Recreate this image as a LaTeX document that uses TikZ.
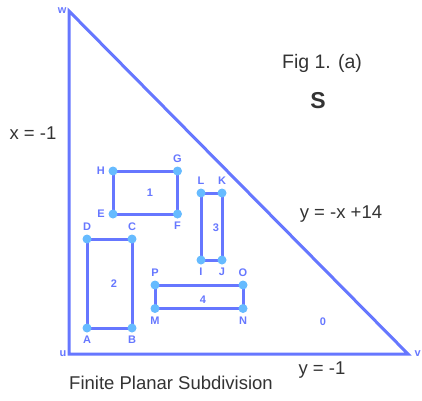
\documentclass[tikz,border=0pt]{standalone}
\usepackage{fontspec}
\setmainfont{Liberation Sans}
\usepackage{tikz}
\usetikzlibrary{backgrounds}

\definecolor{edgeblue}{RGB}{102,119,255}
\definecolor{dotblue}{RGB}{102,187,255}
\definecolor{txtgray}{RGB}{51,51,51}

\tikzset{
  edge/.style={draw=edgeblue,line width=3pt},
  vert/.style={circle,fill=dotblue,inner sep=0pt,minimum size=9pt},
  ptlbl/.style={text=edgeblue,font=\fontsize{11}{12}\selectfont\bfseries},
  every label/.style={ptlbl},
  face/.style={text=edgeblue,font=\fontsize{11}{12}\selectfont\bfseries},
  eqn/.style={text=txtgray,font=\fontsize{18.5}{20}\selectfont},
}

\begin{document}
\begin{tikzpicture}[x=1pt,y=-1pt]
    \useasboundingbox (0,0) rectangle (422,400);
    % outer triangle
    \coordinate[label={[label distance=-1pt]left:w}] (w) at (69,11);
    \coordinate[label={[label distance=-1pt]left:u}] (u) at (69,354);
    \coordinate[label={[label distance=3pt]right:v}] (v) at (408,354);
    \draw[edge,line join=miter] (w) -- (u) -- (v) -- cycle;
    % vertices of the inner faces
    \node[vert,label=left:H] (H) at (113,171) {};
    \node[vert,label=above:G] (G) at (177.5,171) {};
    \node[vert,label=left:E] (E) at (113,214) {};
    \node[vert,label=below:F] (F) at (177.5,214) {};
    \node[vert,label=above:L] (L) at (201,193) {};
    \node[vert,label=above:K] (K) at (222,193) {};
    \node[vert,label=below:I] (I) at (201,260) {};
    \node[vert,label=below:J] (J) at (222,260) {};
    \node[vert,label=above:D] (D) at (87,239) {};
    \node[vert,label=above:C] (C) at (132,239) {};
    \node[vert,label=below:A] (A) at (87,328) {};
    \node[vert,label=below:B] (B) at (132,328) {};
    \node[vert,label=above:P] (P) at (155,285) {};
    \node[vert,label=above:O] (O) at (243,285) {};
    \node[vert,label=below:M] (M) at (155,308.5) {};
    \node[vert,label=below:N] (N) at (243,308.5) {};
    \begin{scope}[on background layer]
      \draw[edge] (H.center) -- (G.center) -- (F.center) -- (E.center) -- cycle;
      \draw[edge] (L.center) -- (K.center) -- (J.center) -- (I.center) -- cycle;
      \draw[edge] (D.center) -- (C.center) -- (B.center) -- (A.center) -- cycle;
      \draw[edge] (P.center) -- (O.center) -- (N.center) -- (M.center) -- cycle;
    \end{scope}
    % face numbers
    \node[face] (f1) at (150,193) {1};
    \node[face] (f2) at (114,284) {2};
    \node[face] (f3) at (216,228) {3};
    \node[face] (f4) at (203,300) {4};
    \node[face] (f0) at (323,322) {0};
    % texts
    \node[eqn,font=\fontsize{19.5}{21}\selectfont] (fig) at (322,63) {Fig 1. (a)};
    \node[text=txtgray,font=\fontsize{23}{25}\selectfont\bfseries] (S) at (318,101) {S};
    \node[eqn] (xl) at (33,133) {x = -1};
    \node[eqn] (diag) at (341,214) {y = -x +14};
    \node[eqn] (yl) at (322,370) {y = -1};
    \node[eqn] (cap) at (171,383) {Finite Planar Subdivision};
\end{tikzpicture}
\end{document}
